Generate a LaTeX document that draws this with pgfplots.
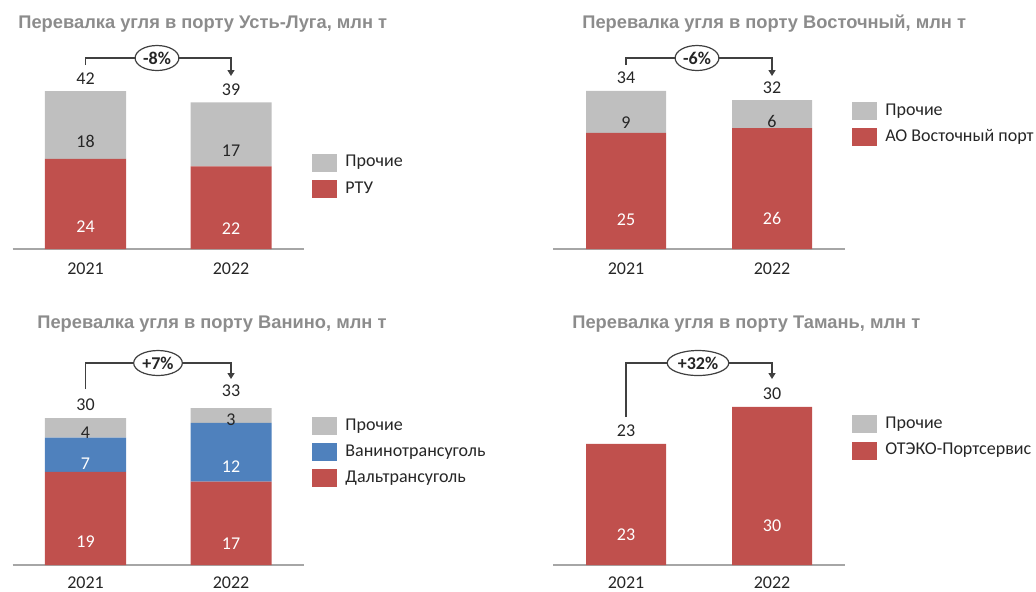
\documentclass[border=0pt]{standalone}
\usepackage{fontspec}
\setmainfont{Carlito}
\newfontfamily\titlefont{Liberation Sans}
\usepackage{pgfplots}
\pgfplotsset{compat=1.18}
\usepackage{pgfplotstable}
\usetikzlibrary{shapes.geometric,arrows.meta}

\definecolor{cred}{HTML}{C0504D}
\definecolor{cblue}{HTML}{4F81BD}
\definecolor{cgray}{HTML}{BFBFBF}
\definecolor{ctitle}{HTML}{8C8C8C}
\definecolor{ctext}{HTML}{262626}
\definecolor{caxis}{HTML}{A6A6A6}
\definecolor{cline}{HTML}{404040}

% coal handling by port, mln t
\pgfplotstableread{
x rtu other tot
0 24 18 42
1 22 17 39
}\ustluga
\pgfplotstableread{
x main other tot
0 25 9 34
1 26 6 32
}\vostochny
\pgfplotstableread{
x dal van other tot
0 19 7 4 30
1 17 12 3 33
}\vanino
\pgfplotstableread{
x main other tot
0 23 0 23
1 30 0 30
}\taman

\newcommand{\lblfont}{\fontsize{9}{10}\selectfont}

\pgfplotsset{
  /pgf/number format/assume math mode=true,
  port/.style={
    ybar stacked, anchor=origin, clip=false,
    xmin=-0.5, xmax=1.5, ymin=0, bar width=40.5pt,
    axis x line=bottom, axis y line=none,
    x axis line style={caxis, line width=0.8pt, -},
    xtick={0,1}, xticklabels={2021,2022},
    major tick length=0pt, xtick style={draw=none},
    xticklabel style={font=\lblfont, text=ctext, yshift=-3.5pt},
    reverse legend, legend cell align=left,
    legend image code/.code={\fill[##1] (0pt,-4.5pt) rectangle (12.5pt,4.5pt);},
    legend style={draw=none, fill=none, anchor=north west, inner sep=0pt,
      row sep=2.8pt, font=\lblfont, text=ctext, nodes={inner sep=1.5pt},
      /tikz/every odd column/.append style={column sep=2.5pt}},
  },
  totals/.style={anchor=origin, clip=false, hide axis,
    xmin=-0.5, xmax=1.5, ymin=0},
  seg/.style n args={2}{fill=#1, draw=none, nodes near coords,
    point meta=explicit, visualization depends on={rawy \as \segv},
    every node near coord/.append style={anchor=center, text=#2, font=\lblfont,
      yshift={-0.25*\segv*\yu}}},
  total/.style={draw=none, mark=none, nodes near coords,
    point meta=explicit,
    every node near coord/.append style={anchor=south, text=ctext, font=\lblfont}},
}

% bracket: xl yl xr yr ytop xellipse text (pixel units)
\newcommand{\bracket}[7]{%
  \draw[cline, line width=0.7pt, -{Triangle[length=3pt,width=3.5pt]}]
    (#1,#2) -- (#1,#5) -- (#3,#5) -- (#3,#4);
  \node[ellipse, draw=cline, line width=0.6pt, fill=white, inner sep=0.8pt,
    minimum height=12.5pt, font=\bfseries\lblfont, text=ctext] at (#6,#5) {#7};
}

\begin{document}
\begin{tikzpicture}
\path[use as bounding box] (0,0) rectangle (518pt,-295.5pt);

\def\yu{1.88pt}
\begin{axis}[port, at={(42.75pt,-124.5pt)}, x=72.75pt, y=\yu, ymax=48,
  legend style={at={(axis cs:1.557,25.8)}}]
\addplot[seg={cred}{white}] table[x=x,y=rtu,meta=rtu]{\ustluga};
\addplot[seg={cgray}{ctext}] table[x=x,y=other,meta=other]{\ustluga};
\legend{РТУ,Прочие}
\end{axis}
\begin{axis}[totals, at={(42.75pt,-124.5pt)}, x=72.75pt, y=\yu, ymax=48]
\addplot[total] table[x=x,y=tot,meta=tot]{\ustluga};
\end{axis}

\def\yu{2.325pt}
\begin{axis}[port, at={(313pt,-124.5pt)}, x=73pt, y=\yu, ymax=40,
  bar width=40pt, legend style={at={(axis cs:1.548,32.0)}}]
\addplot[seg={cred}{white}] table[x=x,y=main,meta=main]{\vostochny};
\addplot[seg={cgray}{ctext}] table[x=x,y=other,meta=other]{\vostochny};
\legend{АО Восточный порт,Прочие}
\end{axis}
\begin{axis}[totals, at={(313pt,-124.5pt)}, x=73pt, y=\yu, ymax=40]
\addplot[total] table[x=x,y=tot,meta=tot]{\vostochny};
\end{axis}

\def\yu{2.45pt}
\begin{axis}[port, at={(42.75pt,-282.5pt)}, x=72.75pt, y=\yu, ymax=38,
  xticklabel style={yshift=1pt},
  legend style={at={(axis cs:1.557,30.6)}}]
\addplot[seg={cred}{white}] table[x=x,y=dal,meta=dal]{\vanino};
\addplot[seg={cblue}{white}] table[x=x,y=van,meta=van]{\vanino};
\addplot[seg={cgray}{ctext}] table[x=x,y=other,meta=other]{\vanino};
\legend{Дальтрансуголь,Ванинотрансуголь,Прочие}
\end{axis}
\begin{axis}[totals, at={(42.75pt,-282.5pt)}, x=72.75pt, y=\yu, ymax=38]
\addplot[total] table[x=x,y=tot,meta=tot]{\vanino};
\end{axis}

\def\yu{2.635pt}
\begin{axis}[port, at={(313pt,-282.5pt)}, x=73pt, y=\yu, ymax=35,
  xticklabel style={yshift=1pt},
  bar width=40pt, legend style={at={(axis cs:1.548,28.7)}}]
\addplot[seg={cred}{white}] table[x=x,y=main,meta=main]{\taman};
\addplot[fill=cgray, draw=none] table[x=x,y=other]{\taman};
\legend{ОТЭКО-Портсервис,Прочие}
\end{axis}
\begin{axis}[totals, at={(313pt,-282.5pt)}, x=73pt, y=\yu, ymax=35]
\addplot[total] table[x=x,y=tot,meta=tot]{\taman};
\end{axis}

\begin{scope}[x=0.5pt,y=-0.5pt]
\tikzset{ttl/.style={anchor=base west, inner sep=0pt, text=ctitle,
  font=\titlefont\bfseries\fontsize{9.15}{10}\selectfont}}
\node[ttl] at (18,28) {Перевалка угля в порту Усть-Луга, млн т};
\node[ttl] at (582,28) {Перевалка угля в порту Восточный, млн т};
\node[ttl] at (37,328) {Перевалка угля в порту Ванино, млн т};
\node[ttl] at (572,328) {Перевалка угля в порту Тамань, млн т};
\bracket{85.5}{65}{231}{76}{58}{157}{-8\%}
\bracket{626}{65}{772}{76}{58}{697}{-6\%}
\bracket{85.5}{389}{231}{379}{363}{158}{+7\%}
\bracket{626}{417}{772}{379}{363}{698}{+32\%}
\end{scope}
\end{tikzpicture}
\end{document}
